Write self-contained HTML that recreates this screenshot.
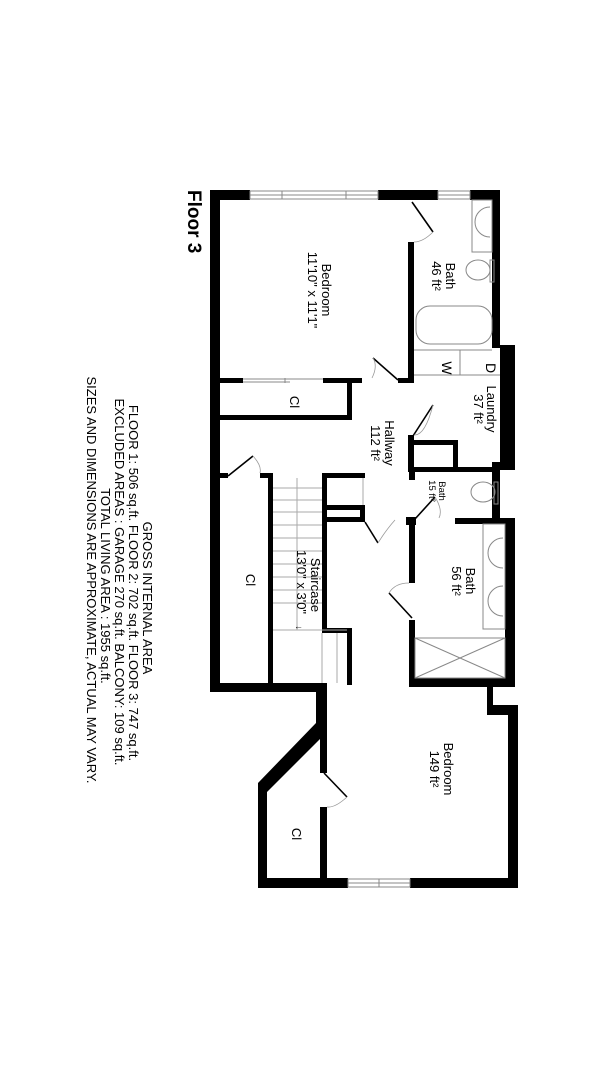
<!DOCTYPE html>
<html><head><meta charset="utf-8"><style>
html,body{margin:0;padding:0;background:#fff;}
svg{display:block;}
text{font-family:"Liberation Sans",Arial,sans-serif;fill:#000;}
</style></head><body>
<svg width="608" height="1080" viewBox="0 0 608 1080" xmlns="http://www.w3.org/2000/svg">
<rect width="608" height="1080" fill="#fff"/>
<g fill="#000">
<rect x="210" y="190" width="10" height="502"/>
<rect x="210" y="190" width="40" height="10"/>
<rect x="378" y="190" width="60" height="10"/>
<rect x="470" y="190" width="30" height="10"/>
<rect x="492" y="190" width="8" height="158"/>
<rect x="500" y="345" width="15" height="125"/>
<rect x="492" y="462" width="8" height="60"/>
<rect x="505" y="518" width="10" height="169"/>
<rect x="410" y="678" width="105" height="9"/>
<rect x="210" y="683" width="117" height="9"/>
<rect x="487" y="687" width="6" height="22"/>
<rect x="487" y="705" width="31" height="10"/>
<rect x="508" y="705" width="10" height="183"/>
<rect x="410" y="878" width="108" height="10"/>
<rect x="258" y="878" width="90" height="10"/>
<rect x="258" y="783" width="9" height="105"/>
<polygon points="258,783 316,723 326,733 267,792"/>
<rect x="316" y="687" width="11" height="40"/>
<rect x="320" y="727" width="7" height="46"/>
<rect x="320" y="807" width="7" height="73"/>
<rect x="408" y="242" width="6" height="138"/>
<rect x="398" y="378" width="16" height="5"/>
<rect x="408" y="435" width="6" height="37"/>
<rect x="408" y="467" width="92" height="5"/>
<rect x="413" y="440" width="45" height="5"/>
<rect x="453" y="440" width="5" height="30"/>
<rect x="455" y="518" width="60" height="6"/>
<rect x="409" y="472" width="6" height="8"/>
<rect x="406" y="517" width="10" height="8"/>
<rect x="409" y="518" width="6" height="65"/>
<rect x="409" y="620" width="6" height="67"/>
<rect x="220" y="378" width="23" height="5"/>
<rect x="323" y="378" width="39" height="5"/>
<rect x="347" y="378" width="5" height="42"/>
<rect x="220" y="415" width="132" height="5"/>
<rect x="220" y="473" width="8" height="5"/>
<rect x="260" y="473" width="13" height="5"/>
<rect x="268" y="473" width="5" height="212"/>
<rect x="322" y="473" width="5" height="158"/>
<rect x="322" y="473" width="43" height="5"/>
<rect x="327" y="505" width="38" height="5"/>
<rect x="360" y="505" width="5" height="17"/>
<rect x="327" y="517" width="38" height="5"/>
<rect x="322" y="628" width="30" height="5"/>
<rect x="347" y="628" width="5" height="57"/>
</g>
<g stroke="#888" stroke-width="1" fill="none">
<rect x="250" y="191" width="128" height="8"/><line x1="250" y1="195" x2="378" y2="195"/><line x1="282" y1="191" x2="282" y2="199"/><line x1="346" y1="191" x2="346" y2="199"/>
<rect x="438" y="191" width="32" height="8"/><line x1="438" y1="195" x2="470" y2="195"/>
<rect x="348" y="879" width="62" height="8"/><line x1="348" y1="883" x2="410" y2="883"/><line x1="379" y1="879" x2="379" y2="887"/>
<line x1="243" y1="379" x2="323" y2="379"/><line x1="243" y1="382" x2="290" y2="382"/><line x1="285" y1="378" x2="285" y2="383"/>
<g stroke="#aaa">
<line x1="297" y1="478" x2="297" y2="630"/>
<line x1="273" y1="488" x2="322" y2="488"/><line x1="273" y1="500" x2="322" y2="500"/><line x1="273" y1="512" x2="322" y2="512"/><line x1="273" y1="525" x2="322" y2="525"/><line x1="273" y1="538" x2="322" y2="538"/><line x1="273" y1="551" x2="322" y2="551"/><line x1="273" y1="564" x2="322" y2="564"/><line x1="273" y1="577" x2="322" y2="577"/><line x1="273" y1="590" x2="322" y2="590"/><line x1="273" y1="603" x2="322" y2="603"/><line x1="273" y1="630" x2="347" y2="630"/>
<line x1="322" y1="633" x2="322" y2="683"/><line x1="337" y1="633" x2="337" y2="683"/>
<line x1="363" y1="478" x2="363" y2="505"/>
</g>
<rect x="415" y="638" width="90" height="40"/>
<line x1="415" y1="638" x2="505" y2="678"/><line x1="505" y1="638" x2="415" y2="678"/>
<line x1="414" y1="375" x2="500" y2="375"/><line x1="460" y1="350" x2="460" y2="375"/>
<line x1="414" y1="350" x2="492" y2="350"/>
<rect x="472" y="200" width="20" height="52"/>
<path d="M490 207 a14 14 0 0 0 0 30"/>
<ellipse cx="478" cy="270" rx="12" ry="10"/><rect x="490" y="260" width="4" height="22"/>
<rect x="416" y="306" width="76" height="38" rx="14"/>
<ellipse cx="483" cy="492" rx="12" ry="10"/><rect x="494" y="482" width="4" height="22"/>
<rect x="483" y="524" width="22" height="105"/>
<path d="M503 538 a14 14 0 0 0 0 30"/><path d="M503 586 a14 14 0 0 0 0 30"/>
</g>
<g stroke="#000" stroke-width="1.6" fill="none">
<line x1="412" y1="202" x2="433" y2="232"/>
<line x1="398" y1="380" x2="373" y2="358"/>
<line x1="413" y1="436" x2="433" y2="405"/>
<line x1="228" y1="476" x2="253" y2="456"/>
<line x1="415" y1="519" x2="435" y2="497"/>
<line x1="365" y1="522" x2="378" y2="543"/>
<line x1="412" y1="618" x2="389" y2="593"/>
<line x1="324" y1="773" x2="347" y2="797"/>
</g>
<g stroke="#999" stroke-width="0.8" fill="none">
<path d="M433 232 Q423 242 414 242"/>
<path d="M373 358 Q378 366 372 378"/>
<path d="M433 405 Q425 436 414 435"/>
<path d="M253 456 Q262 466 260 473"/>
<path d="M435 497 Q443 510 439 518"/>
<path d="M378 543 Q386 530 395 520"/>
<path d="M389 593 Q395 583 409 583"/>
<path d="M347 797 Q335 808 327 807"/>
</g>
<g font-size="13" text-anchor="middle">
<text transform="translate(322,290) rotate(90)">Bedroom</text>
<text transform="translate(308,290) rotate(90)">11'10" x 11'1"</text>
<text transform="translate(446,276) rotate(90)">Bath</text>
<text transform="translate(432,276) rotate(90)">46 ft²</text>
<text transform="translate(290,402) rotate(90)">Cl</text>
<text transform="translate(442,368) rotate(90)" font-size="14">W</text>
<text transform="translate(486,368) rotate(90)" font-size="14">D</text>
<text transform="translate(487,409) rotate(90)">Laundry</text>
<text transform="translate(474,409) rotate(90)">37 ft²</text>
<text transform="translate(385,443) rotate(90)">Hallway</text>
<text transform="translate(371,443) rotate(90)">112 ft²</text>
<text transform="translate(439,491) rotate(90)" font-size="9.5">Bath</text>
<text transform="translate(429,491) rotate(90)" font-size="9.5">15 ft²</text>
<text transform="translate(246,580) rotate(90)">Cl</text>
<text transform="translate(311,585) rotate(90)">Staircase</text>
<text transform="translate(297,582) rotate(90)">13'0" x 3'0"</text>
<text transform="translate(466,581) rotate(90)">Bath</text>
<text transform="translate(452,581) rotate(90)">56 ft²</text>
<text transform="translate(444,769) rotate(90)">Bedroom</text>
<text transform="translate(430,769) rotate(90)">149 ft²</text>
<text transform="translate(292,834) rotate(90)">Cl</text>
</g>
<text transform="translate(294,629)" font-size="9">←</text>
<text transform="translate(188,190) rotate(90)" font-size="19" font-weight="bold">Floor 3</text>
<g font-size="13" text-anchor="middle">
<text transform="translate(143,598) rotate(90)">GROSS INTERNAL AREA</text>
<text transform="translate(129,583) rotate(90)">FLOOR 1: 506 sq.ft.   FLOOR 2: 702 sq.ft.   FLOOR 3: 747 sq.ft.</text>
<text transform="translate(115,582) rotate(90)">EXCLUDED AREAS : GARAGE 270 sq.ft.  BALCONY:  109 sq.ft.</text>
<text transform="translate(101,586) rotate(90)">TOTAL LIVING AREA : 1955 sq.ft.</text>
<text transform="translate(87,580) rotate(90)">SIZES AND DIMENSIONS ARE APPROXIMATE, ACTUAL MAY VARY.</text>
</g>
</svg>
</body></html>
